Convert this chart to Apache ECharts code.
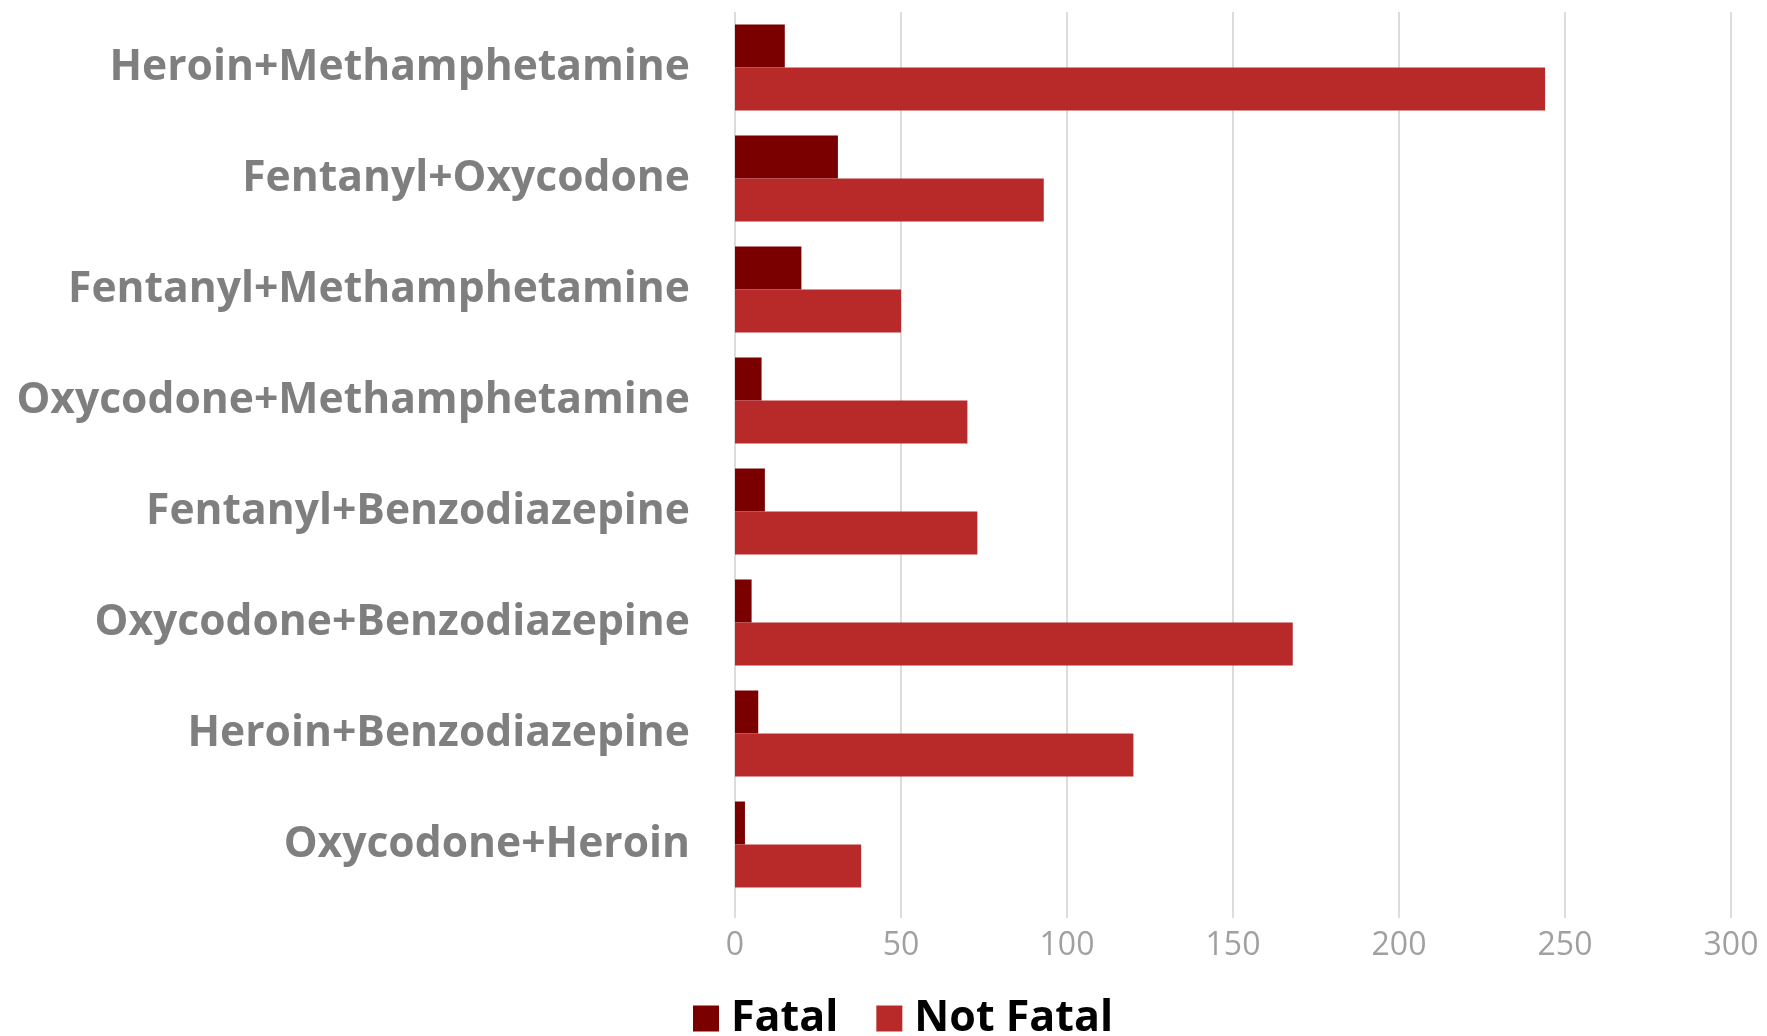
<!DOCTYPE html>
<html>
<head>
<meta charset="utf-8">
<script src="https://cdn.jsdelivr.net/npm/echarts@6/dist/echarts.min.js"></script>
<style>
  html, body { margin: 0; padding: 0; background: #fff; }
  #chart { width: 1767px; height: 1036px; }
</style>
</head>
<body>
<div id="chart"></div>
<script>
// data
var categories = ['Heroin+Methamphetamine', 'Fentanyl+Oxycodone', 'Fentanyl+Methamphetamine',
    'Oxycodone+Methamphetamine', 'Fentanyl+Benzodiazepine', 'Oxycodone+Benzodiazepine',
    'Heroin+Benzodiazepine', 'Oxycodone+Heroin'];
var fatalValues = [15, 31, 20, 8, 9, 5, 7, 3];
var notFatalValues = [244, 93, 50, 70, 73, 168, 120, 38];
var seriesNames = ['Fatal', 'Not Fatal'];

var chart = echarts.init(document.getElementById('chart'));

var option = {
    animation: false,
    color: ['#7a0000', '#b8292a'],
    legend: {
        data: seriesNames,
        left: 688,
        top: 992,
        icon: 'rect',
        itemWidth: 26,
        itemHeight: 26,
        itemGap: 38,
        textStyle: {
            fontFamily: 'Open Sans',
            fontWeight: 'bold',
            fontSize: 43,
            color: '#000',
            padding: [0, 0, 0, 7]
        }
    },
    grid: {
        left: 735,
        right: 36,
        top: 12,
        height: 888,
        containLabel: false
    },
    xAxis: {
        type: 'value',
        min: 0,
        max: 300,
        interval: 50,
        axisLine: { show: false },
        axisTick: {
            show: true,
            length: 18,
            lineStyle: { color: '#dcdcdc', width: 2 }
        },
        splitLine: {
            lineStyle: { color: '#dcdcdc', width: 2 }
        },
        axisLabel: {
            margin: 30,
            fontFamily: 'Open Sans',
            fontSize: 32,
            color: '#a0a0a0'
        }
    },
    yAxis: {
        type: 'category',
        data: categories,
        inverse: true,
        axisLine: { show: false },
        axisTick: { show: false },
        axisLabel: {
            margin: 45,
            fontFamily: 'Open Sans',
            fontWeight: 'bold',
            fontSize: 42.6,
            color: '#7f7f7f'
        }
    },
    series: [{
        name: seriesNames[0],
        type: 'bar',
        barWidth: 43,
        barGap: '0%',
        data: fatalValues
    }, {
        name: seriesNames[1],
        type: 'bar',
        barWidth: 43,
        barGap: '0%',
        data: notFatalValues
    }]
};
chart.setOption(option);
</script>
</body>
</html>
